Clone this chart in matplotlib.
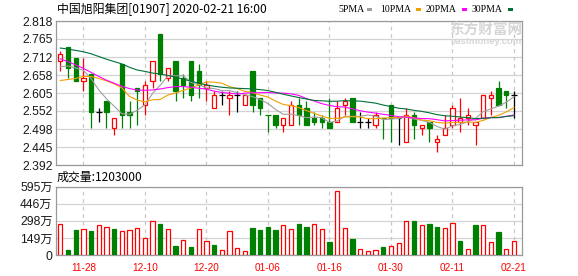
import numpy as np
import matplotlib
matplotlib.use('Agg')
import matplotlib.pyplot as plt
from matplotlib.patches import Rectangle

# daily OHLC, 2019-11-25 .. 2020-02-21 (60 trading days)
opens = [2.70, 2.74, 2.71, 2.64, 2.66, 2.55, 2.58, 2.50, 2.69, 2.55,
         2.62, 2.57, 2.64, 2.78, 2.65, 2.70, 2.65, 2.70, 2.67, 2.62,
         2.56, 2.60, 2.59, 2.60, 2.57, 2.67, 2.59, 2.54, 2.54, 2.51,
         2.51, 2.57, 2.56, 2.53, 2.53, 2.52, 2.52, 2.57, 2.59, 2.52,
         2.52, 2.51, 2.53, 2.57, 2.53, 2.46, 2.54, 2.50, 2.52, 2.46,
         2.48, 2.51, 2.52, 2.53, 2.51, 2.53, 2.59, 2.62, 2.61, 2.60]
highs = [2.73, 2.74, 2.71, 2.71, 2.66, 2.56, 2.58, 2.53, 2.69, 2.58,
         2.62, 2.64, 2.70, 2.78, 2.68, 2.70, 2.66, 2.70, 2.69, 2.64,
         2.61, 2.61, 2.61, 2.61, 2.60, 2.67, 2.59, 2.54, 2.54, 2.53,
         2.58, 2.59, 2.58, 2.55, 2.54, 2.59, 2.58, 2.59, 2.59, 2.55,
         2.53, 2.55, 2.53, 2.57, 2.53, 2.56, 2.55, 2.51, 2.52, 2.48,
         2.54, 2.57, 2.59, 2.56, 2.52, 2.60, 2.61, 2.64, 2.61, 2.61]
lows = [2.67, 2.65, 2.64, 2.61, 2.50, 2.52, 2.50, 2.48, 2.50, 2.50,
        2.51, 2.54, 2.62, 2.64, 2.64, 2.58, 2.59, 2.58, 2.59, 2.58,
        2.56, 2.57, 2.54, 2.55, 2.57, 2.55, 2.54, 2.49, 2.50, 2.49,
        2.51, 2.51, 2.51, 2.51, 2.50, 2.50, 2.52, 2.54, 2.52, 2.50,
        2.50, 2.50, 2.47, 2.46, 2.45, 2.46, 2.47, 2.48, 2.46, 2.43,
        2.48, 2.50, 2.49, 2.51, 2.45, 2.53, 2.54, 2.57, 2.56, 2.53]
closes = [2.72, 2.68, 2.64, 2.65, 2.55, 2.55, 2.55, 2.53, 2.54, 2.54,
          2.61, 2.63, 2.70, 2.66, 2.68, 2.61, 2.63, 2.60, 2.63, 2.63,
          2.60, 2.60, 2.60, 2.60, 2.60, 2.57, 2.56, 2.54, 2.51, 2.53,
          2.57, 2.54, 2.51, 2.52, 2.52, 2.50, 2.56, 2.58, 2.52, 2.52,
          2.52, 2.54, 2.53, 2.53, 2.53, 2.54, 2.51, 2.51, 2.50, 2.47,
          2.50, 2.56, 2.53, 2.54, 2.52, 2.60, 2.60, 2.57, 2.60, 2.60]
volumes = [2690000, 440000, 2190000, 2250000, 2100000, 2600000, 2450000, 2280000, 2100000, 2160000,
           2370000, 1490000, 2950000, 2720000, 2250000, 820000, 1280000, 730000, 2250000, 1230000,
           880000, 410000, 2100000, 610000, 320000, 2390000, 2190000, 2450000, 2190000, 2600000,
           2280000, 2720000, 2450000, 2690000, 2250000, 1140000, 5610000, 2340000, 1400000, 500000,
           320000, 410000, 700000, 790000, 1020000, 2950000, 2950000, 2600000, 2720000, 2450000,
           2340000, 2770000, 1200000, 500000, 2630000, 2600000, 1110000, 2010000, 500000, 1203000]

ma5_head = [2.683, 2.685, 2.679, 2.672]
ma10_head = [2.642, 2.645, 2.648, 2.654, 2.654, 2.648, 2.641, 2.632, 2.620]
ma20_head = [2.706, 2.698, 2.688, 2.678, 2.666, 2.654, 2.643, 2.634, 2.625, 2.618,
             2.614, 2.613, 2.614, 2.617, 2.621, 2.624, 2.624, 2.622, 2.619]
ma30_head = [2.738, 2.735, 2.731, 2.727, 2.721, 2.713, 2.705, 2.698, 2.691, 2.681,
             2.673, 2.669, 2.664, 2.661, 2.657, 2.652, 2.646, 2.640, 2.634, 2.629,
             2.625, 2.622, 2.620, 2.619, 2.618, 2.617, 2.615, 2.612, 2.607]

date_idx = [3, 11, 19, 27, 35, 43, 51, 59]
date_labels = ['11-28', '12-10', '12-20', '01-06', '01-16', '01-30', '02-11', '02-21']
price_labels = ['2.392', '2.445', '2.498', '2.552', '2.605', '2.658', '2.712', '2.765', '2.818']
vol_labels = ['0', '149万', '298万', '446万', '595万']

RED = '#ff0000'
GREEN = '#008000'
GRID = '#d3d3d3'
FRAME = '#9a9a9a'


def moving_avg(head, n):
    out = list(head)
    for i in range(len(head), len(closes)):
        out.append(np.mean(closes[i - n + 1:i + 1]))
    return out


def candle_color(i):
    if closes[i] > opens[i]:
        return RED
    if closes[i] < opens[i]:
        return GREEN
    prev = closes[i - 1] if i > 0 else opens[i]
    if closes[i] > prev:
        return RED
    if closes[i] < prev:
        return GREEN
    return 'black'


def vol_color(i):
    prev = closes[i - 1] if i > 0 else opens[i]
    return RED if closes[i] >= prev else GREEN


plt.rcParams['font.family'] = ['Liberation Sans', 'Noto Sans CJK SC']
cjk = ['Noto Sans CJK SC', 'DejaVu Sans']

W, H = 578, 276
fig = plt.figure(figsize=(W / 100, H / 100), dpi=100)
ax = fig.add_axes([56 / W, 1 - 165 / H, 466 / W, 144 / H])
axv = fig.add_axes([56 / W, 1 - 255 / H, 466 / W, 68.3 / H])

n = len(closes)
x = np.arange(n)
bw = 0.56

# candles
for i in range(n):
    c = candle_color(i)
    o, cl = opens[i], closes[i]
    ax.vlines(i, lows[i], highs[i], color=c, lw=0.9, zorder=3)
    if o == cl:
        ax.hlines(o, i - bw / 2 - 0.08, i + bw / 2 + 0.08, color=c, lw=0.9, zorder=4)
    else:
        lo, hi = min(o, cl), max(o, cl)
        face = 'white' if c == RED else c
        ax.add_patch(Rectangle((i - bw / 2, lo), bw, hi - lo, facecolor=face,
                               edgecolor=c, lw=0.9, zorder=4))

# moving averages
ax.plot(x, moving_avg(ma5_head, 5), color='#a0a0a0', lw=0.8, zorder=5)
ax.plot(x, moving_avg(ma10_head, 10), color='#f0a000', lw=0.8, zorder=5)
ax.plot(x, moving_avg(ma20_head, 20), color='#ff00ff', lw=0.8, zorder=5)
ax.plot(x, moving_avg(ma30_head, 30), color='#00703a', lw=0.8, zorder=5)

ymin, ymax = 2.392, 2.818
ax.set_ylim(ymin, ymax)
ax.set_yticks(np.linspace(ymin, ymax, len(price_labels)))
ax.set_yticklabels(price_labels)

# volume bars
for i in range(n):
    c = vol_color(i)
    face = 'white' if c == RED else c
    axv.add_patch(Rectangle((i - bw / 2, 0), bw, volumes[i], facecolor=face,
                            edgecolor=c, lw=0.9, zorder=4))
vmax = 5950000
axv.set_ylim(0, vmax)
axv.set_yticks(np.linspace(0, vmax, len(vol_labels)))
axv.set_yticklabels(vol_labels)

for a in (ax, axv):
    a.set_xlim(-0.56, 60.04)
    a.set_xticks(date_idx)
    a.grid(axis='y', color=GRID, lw=0.9, zorder=0)
    for xi in date_idx:
        a.axvline(xi, color='#c8c8c8', lw=0.9, ls=(0, (3, 3)), zorder=1)
    for s in a.spines.values():
        s.set_color(FRAME)
        s.set_linewidth(0.9)
    a.tick_params(length=0, labelsize=8.7, colors='#1a1a1a', pad=2.5)
    a.set_axisbelow(True)

ax.set_xticklabels([])
axv.set_xticklabels(date_labels)
axv.tick_params(axis='x', labelsize=7.2, labelcolor=RED, pad=5.5)

# header texts
fig.text(57 / W, 1 - 10 / H, '中国旭阳集团[01907] 2020-02-21 16:00', ha='left', va='center',
         fontsize=8.6, family=cjk, color='black')
fig.text(57 / W, 1 - 177.5 / H, '成交量:1203000', ha='left', va='center',
         fontsize=8.6, family=cjk, color='black')

legend_items = [('5PMA', 338, '#a0a0a0'), ('10PMA', 380, '#f0a000'),
                ('20PMA', 426, '#ff00ff'), ('30PMA', 472, '#00703a')]
for label, lx, col in legend_items:
    fig.text(lx / W, 1 - 9.5 / H, label, ha='left', va='center', fontsize=7.0,
             family='Liberation Serif', color='black')
    sq_x = lx + (29 if len(label) == 4 else 36)
    fig.patches.append(Rectangle((sq_x / W, 1 - 11 / H), 4.5 / W, 3.5 / H,
                                 facecolor=col, edgecolor='none', transform=fig.transFigure))

# watermark
fig.text(486 / W, 1 - 30 / H, '东方财富网', ha='center', va='center', fontsize=10.5,
         family=cjk, color='#d6d6d6', weight='bold', zorder=0)
fig.text(486 / W, 1 - 42 / H, 'eastmoney.com', ha='center', va='center', fontsize=6.8,
         color='#d6d6d6', weight='bold', zorder=0)

fig.savefig('out.png', dpi=100)
